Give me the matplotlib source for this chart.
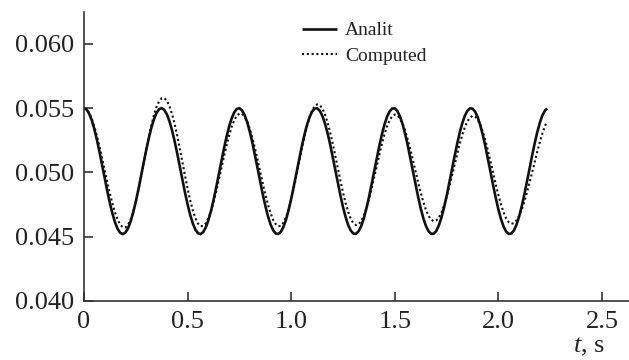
import matplotlib
matplotlib.use("Agg")
import matplotlib.pyplot as plt

plt.rcParams['font.family'] = ['Liberation Serif', 'DejaVu Serif']
plt.rcParams['mathtext.fontset'] = 'custom'
plt.rcParams['mathtext.rm'] = 'Liberation Serif'
plt.rcParams['mathtext.it'] = 'Liberation Serif:italic'

t_grid = [0.0000, 0.0125, 0.0250, 0.0375, 0.0500, 0.0625, 0.0750, 0.0875, 0.1000, 0.1125,
          0.1250, 0.1375, 0.1500, 0.1625, 0.1750, 0.1875, 0.2000, 0.2125, 0.2250, 0.2375,
          0.2500, 0.2625, 0.2750, 0.2875, 0.3000, 0.3125, 0.3250, 0.3375, 0.3500, 0.3625,
          0.3750, 0.3875, 0.4000, 0.4125, 0.4250, 0.4375, 0.4500, 0.4625, 0.4750, 0.4875,
          0.5000, 0.5125, 0.5250, 0.5375, 0.5500, 0.5625, 0.5750, 0.5875, 0.6000, 0.6125,
          0.6250, 0.6375, 0.6500, 0.6625, 0.6750, 0.6875, 0.7000, 0.7125, 0.7250, 0.7375,
          0.7500, 0.7625, 0.7750, 0.7875, 0.8000, 0.8125, 0.8250, 0.8375, 0.8500, 0.8625,
          0.8750, 0.8875, 0.9000, 0.9125, 0.9250, 0.9375, 0.9500, 0.9625, 0.9750, 0.9875,
          1.0000, 1.0125, 1.0250, 1.0375, 1.0500, 1.0625, 1.0750, 1.0875, 1.1000, 1.1125,
          1.1250, 1.1375, 1.1500, 1.1625, 1.1750, 1.1875, 1.2000, 1.2125, 1.2250, 1.2375,
          1.2500, 1.2625, 1.2750, 1.2875, 1.3000, 1.3125, 1.3250, 1.3375, 1.3500, 1.3625,
          1.3750, 1.3875, 1.4000, 1.4125, 1.4250, 1.4375, 1.4500, 1.4625, 1.4750, 1.4875,
          1.5000, 1.5125, 1.5250, 1.5375, 1.5500, 1.5625, 1.5750, 1.5875, 1.6000, 1.6125,
          1.6250, 1.6375, 1.6500, 1.6625, 1.6750, 1.6875, 1.7000, 1.7125, 1.7250, 1.7375,
          1.7500, 1.7625, 1.7750, 1.7875, 1.8000, 1.8125, 1.8250, 1.8375, 1.8500, 1.8625,
          1.8750, 1.8875, 1.9000, 1.9125, 1.9250, 1.9375, 1.9500, 1.9625, 1.9750, 1.9875,
          2.0000, 2.0125, 2.0250, 2.0375, 2.0500, 2.0625, 2.0750, 2.0875, 2.1000, 2.1125,
          2.1250, 2.1375, 2.1500, 2.1625, 2.1750, 2.1875, 2.2000, 2.2125, 2.2250]

t_analit = t_grid + [2.235]
y_analit = [0.05500, 0.05489, 0.05457, 0.05406, 0.05337, 0.05253, 0.05159, 0.05058, 0.04956, 0.04855,
            0.04761, 0.04679, 0.04611, 0.04560, 0.04530, 0.04520, 0.04532, 0.04565, 0.04618, 0.04688,
            0.04772, 0.04867, 0.04968, 0.05071, 0.05171, 0.05264, 0.05346, 0.05413, 0.05462, 0.05492,
            0.05500, 0.05486, 0.05452, 0.05398, 0.05327, 0.05242, 0.05147, 0.05046, 0.04943, 0.04843,
            0.04751, 0.04670, 0.04604, 0.04555, 0.04527, 0.04520, 0.04535, 0.04571, 0.04626, 0.04697,
            0.04783, 0.04879, 0.04980, 0.05083, 0.05182, 0.05274, 0.05355, 0.05420, 0.05467, 0.05494,
            0.05499, 0.05483, 0.05447, 0.05391, 0.05318, 0.05232, 0.05135, 0.05034, 0.04931, 0.04832,
            0.04741, 0.04661, 0.04597, 0.04551, 0.04525, 0.04521, 0.04538, 0.04576, 0.04633, 0.04707,
            0.04794, 0.04891, 0.04992, 0.05095, 0.05194, 0.05285, 0.05363, 0.05426, 0.05471, 0.05496,
            0.05499, 0.05480, 0.05441, 0.05383, 0.05308, 0.05221, 0.05123, 0.05021, 0.04919, 0.04821,
            0.04730, 0.04653, 0.04590, 0.04547, 0.04524, 0.04522, 0.04542, 0.04582, 0.04641, 0.04717,
            0.04805, 0.04903, 0.05005, 0.05107, 0.05205, 0.05295, 0.05372, 0.05433, 0.05475, 0.05497,
            0.05498, 0.05477, 0.05435, 0.05375, 0.05298, 0.05209, 0.05111, 0.05009, 0.04907, 0.04809,
            0.04720, 0.04644, 0.04584, 0.04543, 0.04522, 0.04523, 0.04545, 0.04588, 0.04649, 0.04727,
            0.04816, 0.04915, 0.05017, 0.05119, 0.05216, 0.05305, 0.05380, 0.05439, 0.05479, 0.05498,
            0.05496, 0.05473, 0.05429, 0.05366, 0.05288, 0.05198, 0.05099, 0.04997, 0.04895, 0.04798,
            0.04710, 0.04636, 0.04578, 0.04539, 0.04521, 0.04525, 0.04549, 0.04595, 0.04658, 0.04737,
            0.04828, 0.04927, 0.05029, 0.05131, 0.05227, 0.05314, 0.05388, 0.05445, 0.05482,
            0.05497]

t_computed = t_grid + [2.233]
y_computed = [0.05500, 0.05491, 0.05463, 0.05418, 0.05357, 0.05284, 0.05200, 0.05110, 0.05016, 0.04924,
              0.04836, 0.04756, 0.04687, 0.04632, 0.04594, 0.04573, 0.04572, 0.04592, 0.04633, 0.04693,
              0.04771, 0.04861, 0.04961, 0.05067, 0.05172, 0.05273, 0.05366, 0.05445, 0.05509, 0.05553,
              0.05577, 0.05578, 0.05557, 0.05515, 0.05454, 0.05376, 0.05285, 0.05185, 0.05080, 0.04975,
              0.04875, 0.04784, 0.04706, 0.04645, 0.04603, 0.04582, 0.04583, 0.04603, 0.04642, 0.04697,
              0.04767, 0.04847, 0.04936, 0.05027, 0.05119, 0.05206, 0.05285, 0.05353, 0.05405, 0.05441,
              0.05458, 0.05457, 0.05435, 0.05396, 0.05340, 0.05270, 0.05189, 0.05101, 0.05009, 0.04917,
              0.04830, 0.04752, 0.04685, 0.04633, 0.04598, 0.04581, 0.04584, 0.04608, 0.04652, 0.04714,
              0.04790, 0.04879, 0.04975, 0.05075, 0.05174, 0.05268, 0.05352, 0.05423, 0.05478, 0.05514,
              0.05529, 0.05524, 0.05498, 0.05453, 0.05391, 0.05314, 0.05226, 0.05131, 0.05032, 0.04935,
              0.04843, 0.04761, 0.04692, 0.04639, 0.04605, 0.04590, 0.04596, 0.04620, 0.04662, 0.04720,
              0.04791, 0.04871, 0.04959, 0.05049, 0.05138, 0.05221, 0.05296, 0.05359, 0.05407, 0.05437,
              0.05450, 0.05444, 0.05420, 0.05379, 0.05324, 0.05255, 0.05178, 0.05094, 0.05007, 0.04922,
              0.04842, 0.04770, 0.04709, 0.04663, 0.04633, 0.04620, 0.04626, 0.04649, 0.04688, 0.04743,
              0.04809, 0.04886, 0.04969, 0.05054, 0.05138, 0.05218, 0.05290, 0.05350, 0.05396, 0.05426,
              0.05439, 0.05435, 0.05411, 0.05371, 0.05314, 0.05245, 0.05166, 0.05080, 0.04992, 0.04904,
              0.04822, 0.04749, 0.04688, 0.04641, 0.04612, 0.04600, 0.04606, 0.04627, 0.04663, 0.04712,
              0.04773, 0.04843, 0.04920, 0.05000, 0.05082, 0.05162, 0.05237, 0.05305, 0.05363,
              0.05393]

x_ticks = [0, 0.5, 1.0, 1.5, 2.0, 2.5]
x_tick_labels = ["0", "0.5", "1.0", "1.5", "2.0", "2.5"]
y_ticks = [0.040, 0.045, 0.050, 0.055, 0.060]
y_tick_labels = ["0.040", "0.045", "0.050", "0.055", "0.060"]

fig = plt.figure(figsize=(6.29, 3.60), dpi=100)
ax = fig.add_axes([0.1335, 0.164, 0.8665, 0.8035])

ax.plot(t_analit, y_analit, color='#111111', lw=1.9, solid_capstyle='butt', label='Analit')
ax.plot(t_computed, y_computed, color='#111111', lw=1.5, linestyle=(0, (1, 1.3)), label='Computed')

ax.set_xlim(0, 2.63)
ax.set_ylim(0.040, 0.0625)
ax.set_xticks(x_ticks)
ax.set_xticklabels(x_tick_labels)
ax.set_yticks(y_ticks)
ax.set_yticklabels(y_tick_labels)

for s in ['top', 'right']:
    ax.spines[s].set_visible(False)
for s in ['left', 'bottom']:
    ax.spines[s].set_color('#333333')
    ax.spines[s].set_linewidth(1.2)

ax.tick_params(axis='both', direction='in', length=6.5, width=1.2, color='#333333',
               labelsize=19, labelcolor='#222222')
ax.tick_params(axis='y', pad=7)
ax.tick_params(axis='x', pad=7)

fig.text(0.911, 0.022, r'$t$, s', fontsize=19, color='#222222', ha='left', va='baseline')

leg = ax.legend(loc='upper left', bbox_to_anchor=(0.40, 0.965), frameon=False,
                fontsize=14, handlelength=1.8, handletextpad=0.4,
                labelspacing=0.42, borderpad=0, borderaxespad=0)
for txt in leg.get_texts():
    txt.set_color('#222222')

fig.savefig('out.png', dpi=100)
